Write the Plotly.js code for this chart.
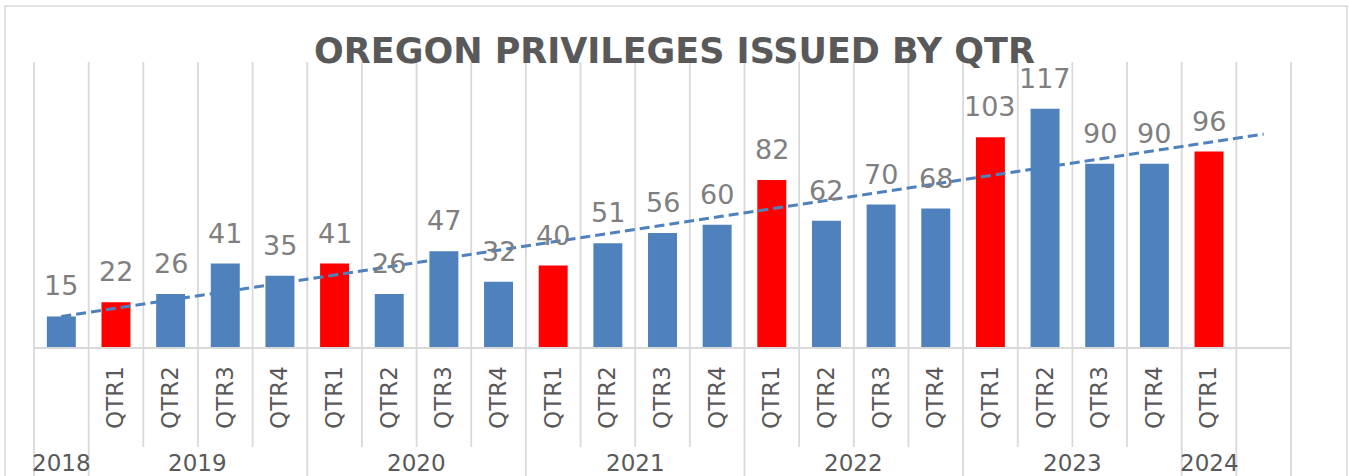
<!DOCTYPE html>
<html>
<head>
<meta charset="utf-8">
<script src="https://cdn.plot.ly/plotly-3.0.1.min.js"></script>
<style>
  html, body { margin: 0; padding: 0; background: #ffffff; }
  #chart { width: 1349px; height: 476px; }
</style>
</head>
<body>
<div id="chart"></div>
<script>
// ---------- DATA ----------
const chartTitle = "OREGON PRIVILEGES ISSUED BY QTR";
const yearLabels = ["2018","2019","2019","2019","2019","2020","2020","2020","2020",
                    "2021","2021","2021","2021","2022","2022","2022","2022",
                    "2023","2023","2023","2023","2024"];
const quarterLabels = ["","QTR1","QTR2","QTR3","QTR4","QTR1","QTR2","QTR3","QTR4",
                       "QTR1","QTR2","QTR3","QTR4","QTR1","QTR2","QTR3","QTR4",
                       "QTR1","QTR2","QTR3","QTR4","QTR1"];
const privileges = [15,22,26,41,35,41,26,47,32,40,51,56,60,82,62,70,68,103,117,90,90,96];
const forecastPeriods = 1;

// ---------- STYLE / GEOMETRY ----------
const BLUE = "#4F81BD", RED = "#FF0000", GRID = "#d9d9d9";
const LABEL_GREY = "#7f7f7f", AXIS_GREY = "#595959";
const W = 1349, H = 476;
const M = { l: 34, r: 58, t: 62, b: 129 };
const plotW = W - M.l - M.r, plotH = H - M.t - M.b;
const n = privileges.length;
const idx = privileges.map((_, i) => i);
const xMin = -0.5, xMax = n - 1 + forecastPeriods + 0.5;
const yMax = 140;

const toPaperX = px => (px - M.l) / plotW;
const toPaperY = py => (H - M.b - py) / plotH;
const dataToPaperX = x => (x - xMin) / (xMax - xMin);

// linear trend (least squares), forecast forward
const mx = idx.reduce((a, b) => a + b, 0) / n;
const my = privileges.reduce((a, b) => a + b, 0) / n;
let sxy = 0, sxx = 0;
idx.forEach((x, i) => { sxy += (x - mx) * (privileges[i] - my); sxx += (x - mx) * (x - mx); });
const slope = sxy / sxx, intercept = my - slope * mx;
const trendX = [0, n - 1 + forecastPeriods];
const trendY = trendX.map(x => intercept + slope * x);

const barColors = quarterLabels.map(q => q === "QTR1" ? RED : BLUE);

const traces = [
  {
    type: "bar", x: idx, y: privileges, width: 0.53,
    marker: { color: barColors, line: { width: 0 } },
    hoverinfo: "skip", showlegend: false
  },
  {
    type: "scatter", mode: "lines", x: trendX, y: trendY,
    line: { color: BLUE, width: 3, dash: "10px,5px" },
    hoverinfo: "skip", showlegend: false
  }
];

// ---------- shapes: frame + vertical dividers ----------
const shapes = [];
shapes.push({
  type: "rect", xref: "paper", yref: "paper", layer: "below",
  x0: toPaperX(5), x1: toPaperX(1347), y0: toPaperY(H + 20), y1: toPaperY(6),
  line: { color: GRID, width: 1.5 }, fillcolor: "rgba(0,0,0,0)"
});
for (let b = 0; b <= n - 1 + forecastPeriods + 1; b++) {
  const isGroup = b === 0 || b >= n || yearLabels[b] !== yearLabels[b - 1];
  const xp = dataToPaperX(b - 0.5);
  shapes.push({
    type: "line", xref: "paper", yref: "paper", layer: "below",
    x0: xp, x1: xp, y0: 1, y1: isGroup ? toPaperY(H + 20) : toPaperY(447),
    line: { color: GRID, width: 1.8 }
  });
}

// ---------- annotations: data labels + year labels ----------
const annotations = [];
privileges.forEach((v, i) => {
  annotations.push({
    xref: "x", yref: "y", x: i, y: v, text: String(v),
    showarrow: false, xanchor: "center", yanchor: "bottom", yshift: 13,
    font: { family: "DejaVu Sans", size: 27, color: LABEL_GREY }
  });
});
const years = [...new Set(yearLabels)];
years.forEach(yr => {
  const first = yearLabels.indexOf(yr), last = yearLabels.lastIndexOf(yr);
  annotations.push({
    xref: "x", yref: "paper", x: (first + last) / 2, y: toPaperY(463),
    text: yr, showarrow: false, xanchor: "center", yanchor: "middle",
    font: { family: "DejaVu Sans", size: 23, color: AXIS_GREY }
  });
});

const layout = {
  width: W, height: H,
  margin: M,
  paper_bgcolor: "#ffffff", plot_bgcolor: "rgba(0,0,0,0)",
  title: {
    text: chartTitle, x: 0.5, xref: "container", xanchor: "center",
    y: 1 - 38 / H, yref: "container", yanchor: "top",
    font: { family: "DejaVu Sans", size: 35, color: AXIS_GREY, weight: "bold" }
  },
  xaxis: {
    range: [xMin, xMax], tickmode: "array", tickvals: idx, ticktext: quarterLabels,
    tickangle: -90, showgrid: false, zeroline: false, showline: true,
    linecolor: GRID, linewidth: 2, ticks: "", ticklabelstandoff: 8,
    tickfont: { family: "DejaVu Sans", size: 23, color: AXIS_GREY },
    fixedrange: true
  },
  yaxis: { range: [0, yMax], visible: false, fixedrange: true },
  bargap: 0.47,
  shapes: shapes,
  annotations: annotations,
  showlegend: false
};

Plotly.newPlot("chart", traces, layout, { displayModeBar: false, staticPlot: true });
</script>
</body>
</html>
